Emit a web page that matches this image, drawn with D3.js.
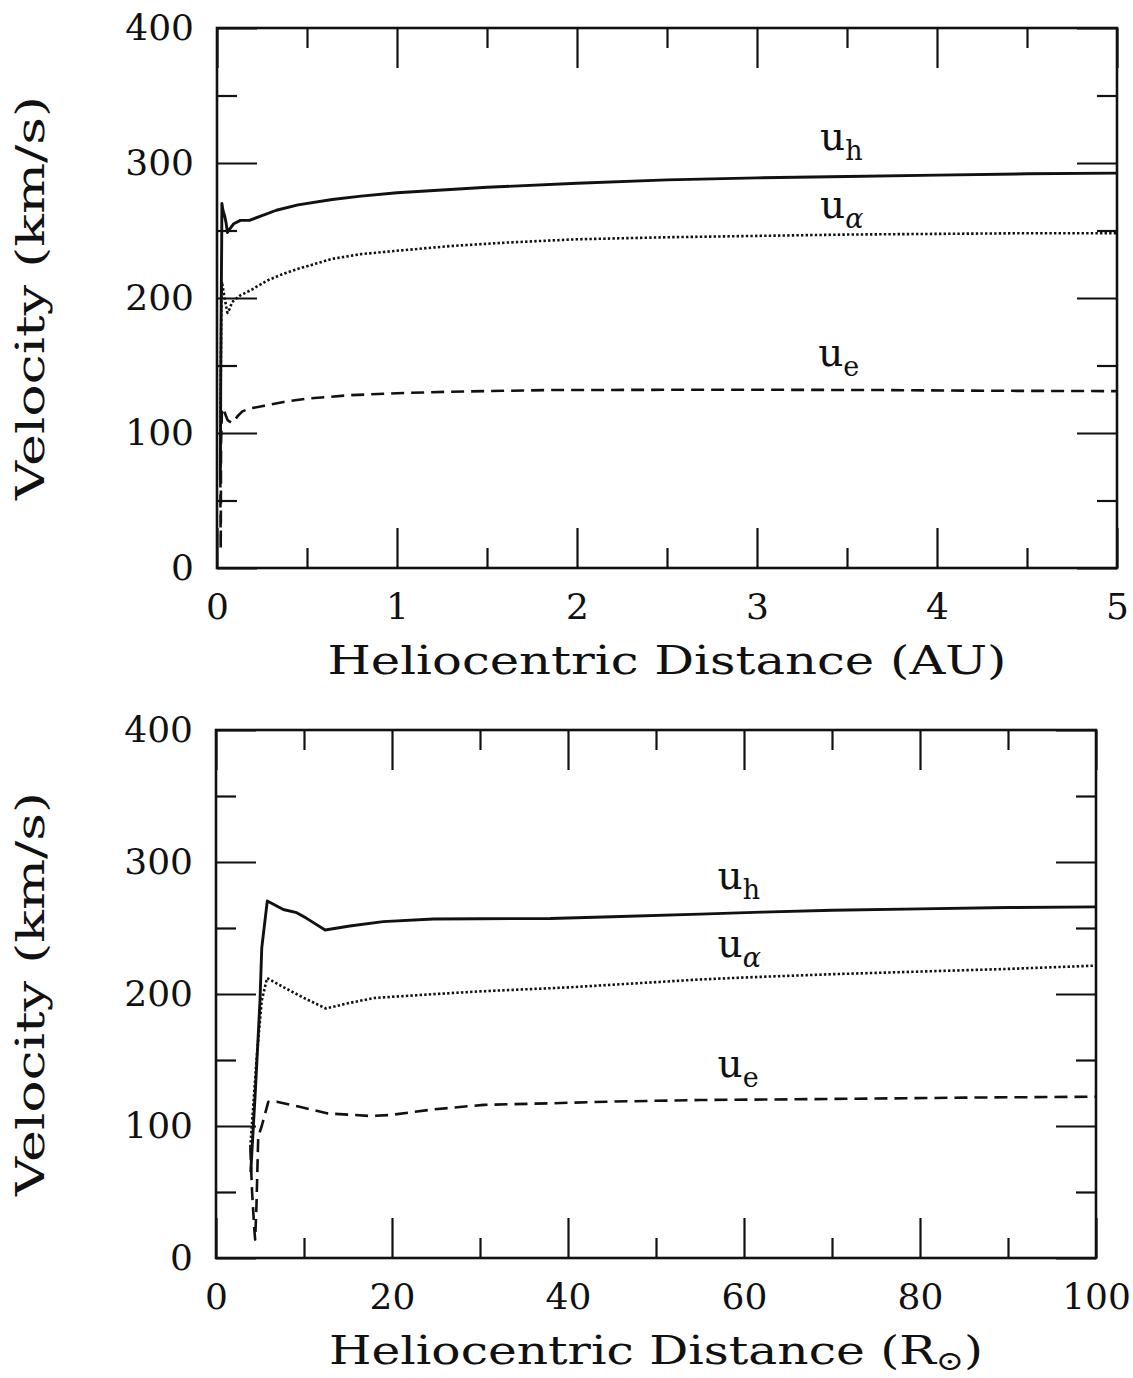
<!DOCTYPE html>
<html>
<head>
<meta charset="utf-8">
<script src="https://cdn.jsdelivr.net/npm/d3@7"></script>
<style>
  html, body { margin: 0; padding: 0; background: #fff; }
  svg { display: block; }
  text { fill: #111; }
</style>
</head>
<body>
<svg id="chart" width="1133" height="1378"></svg>
<script>
// ---- Velocity profiles, out to 5 AU (upper panel) ----
const auDistH = [0.0186, 0.0207, 0.0233, 0.0260, 0.0272, 0.0330, 0.0420, 0.0500, 0.0580, 0.0700, 0.0930, 0.1300, 0.1800, 0.2500, 0.3300, 0.4500, 0.6400, 0.8000, 1.0000, 1.5000, 2.0000, 2.5000, 3.0000, 3.5000, 4.0000, 4.5000, 5.0000];
const auVelH  = [65, 140, 195, 240, 270, 265, 261, 256, 248.5, 251, 255, 257.5, 257.5, 261, 265, 269, 273, 275.5, 278, 282, 285, 287.5, 289, 290, 291, 292, 292.5];

const auDistA = [0.0181, 0.0214, 0.0242, 0.0270, 0.0370, 0.0465, 0.0580, 0.0700, 0.0840, 0.1300, 0.1900, 0.2800, 0.3700, 0.4600, 0.6400, 0.8000, 1.0000, 1.3000, 1.6000, 2.0000, 2.5000, 3.0000, 3.5000, 4.0000, 4.5000, 5.0000];
const auVelA  = [84, 150, 195, 212, 204, 197, 189, 192, 197, 202, 206, 213, 218, 222, 229, 232.5, 235, 238.5, 241, 243.5, 245, 246, 247, 247.5, 248, 248];

const auDistE = [0.0181, 0.0191, 0.0202, 0.0207, 0.0214, 0.0223, 0.0242, 0.0277, 0.0321, 0.0442, 0.0586, 0.0814, 0.0921, 0.1150, 0.1410, 0.1770, 0.2560, 0.3700, 0.5000, 0.7400, 1.0000, 1.3000, 1.8500, 2.5000, 3.1000, 3.7000, 4.3000, 5.0000];
const auVelE  = [84, 50, 22, 14, 40, 92, 100, 118, 118.5, 114.6, 109.6, 107.6, 108.3, 112.6, 116, 118, 120, 123, 125.5, 128, 129.5, 130.6, 131.8, 132, 132, 131.8, 131.3, 131];

// ---- Velocity profiles, out to 100 solar radii (lower panel) ----
const rsDistH = [3.95, 4.5, 5.0, 5.2, 5.83, 7.65, 9.17, 10.3, 12.4, 15.2, 19, 24.7, 30, 38, 45, 55, 62, 70, 80, 90, 100];
const rsVelH  = [65, 130, 195, 235, 270.5, 264, 261.6, 257.3, 248.5, 251.5, 254.8, 256.8, 257, 257.2, 258.5, 260.5, 262, 263.5, 264.5, 265.5, 266];

const rsDistA = [3.9, 4.6, 5.2, 5.8, 8, 10, 12.5, 15, 18, 25, 30, 40, 50, 55, 60, 70, 80, 90, 100];
const rsVelA  = [84, 150, 195, 212, 204, 197, 189, 193, 197, 200, 202, 205, 209, 211, 212.5, 215, 217, 219, 221.5];

const rsDistE = [3.9, 4.1, 4.35, 4.45, 4.6, 4.8, 5.2, 5.95, 6.9, 9.5, 12.6, 17.5, 19.8, 24.7, 30.4, 38, 45, 55, 65, 75, 85, 100];
const rsVelE  = [84, 50, 22, 14, 40, 92, 100, 118.4, 118.4, 114.6, 109.6, 107.6, 108.3, 112.6, 116, 117.2, 118.5, 119.7, 120.2, 120.8, 121.5, 122.2];

// ---- Axis ticks ----
const velMajor = [0, 100, 200, 300, 400];
const velMinor = [50, 150, 250, 350];
const auMajor = [0, 1, 2, 3, 4, 5];
const auMinor = [0.5, 1.5, 2.5, 3.5, 4.5];
const rsMajor = [0, 20, 40, 60, 80, 100];
const rsMinor = [10, 30, 50, 70, 90];

// ---- Curve labels: name, subscript, anchor in data units ----
const curveNames = ["u", "u", "u"];
const curveSubs = ["h", "α", "e"];
const auLabelX = [3.35, 3.35, 3.34];
const auLabelV = [309.5, 259, 150];
const rsLabelX = [57, 57, 57];
const rsLabelV = [279.5, 228, 137];

const svg = d3.select("#chart");
svg.append("rect").attr("width", 1133).attr("height", 1378).attr("fill", "#fff");

const SERIF = "'DejaVu Serif', 'Liberation Serif', serif";
const lineStyles = [
  { width: 2.9, dash: null },
  { width: 2.6, dash: "2.4,2.2" },
  { width: 2.6, dash: "13,7" }
];

function drawPanel(cfg) {
  const { left, right, top, bottom } = cfg.box;
  const x = d3.scaleLinear().domain(cfg.xDomain).range([left, right]);
  const y = d3.scaleLinear().domain([0, 400]).range([bottom, top]);
  const g = svg.append("g");

  const tickStyle = sel => {
    sel.select(".domain").remove();
    sel.selectAll(".tick line").attr("stroke", "#111").attr("stroke-width", 2.2);
    sel.selectAll(".tick text")
      .attr("font-family", SERIF).attr("font-size", 36).attr("fill", "#111");
  };

  // major ticks with labels
  g.append("g").attr("transform", `translate(0,${bottom})`)
    .call(d3.axisBottom(x).tickValues(cfg.xMajor).tickSize(-40).tickPadding(25)
      .tickFormat(d3.format("d")))
    .call(tickStyle);
  g.append("g").attr("transform", `translate(0,${top})`)
    .call(d3.axisTop(x).tickValues(cfg.xMajor).tickSize(-40).tickFormat(""))
    .call(tickStyle);
  g.append("g").attr("transform", `translate(${left},0)`)
    .call(d3.axisLeft(y).tickValues(velMajor).tickSize(-40).tickPadding(23)
      .tickFormat(d3.format("d")))
    .call(tickStyle);
  g.append("g").attr("transform", `translate(${right},0)`)
    .call(d3.axisRight(y).tickValues(velMajor).tickSize(-40).tickFormat(""))
    .call(tickStyle);

  // minor ticks
  g.append("g").attr("transform", `translate(0,${bottom})`)
    .call(d3.axisBottom(x).tickValues(cfg.xMinor).tickSize(-20).tickFormat(""))
    .call(tickStyle);
  g.append("g").attr("transform", `translate(0,${top})`)
    .call(d3.axisTop(x).tickValues(cfg.xMinor).tickSize(-20).tickFormat(""))
    .call(tickStyle);
  g.append("g").attr("transform", `translate(${left},0)`)
    .call(d3.axisLeft(y).tickValues(velMinor).tickSize(-20).tickFormat(""))
    .call(tickStyle);
  g.append("g").attr("transform", `translate(${right},0)`)
    .call(d3.axisRight(y).tickValues(velMinor).tickSize(-20).tickFormat(""))
    .call(tickStyle);

  // frame
  g.append("rect")
    .attr("x", left).attr("y", top)
    .attr("width", right - left).attr("height", bottom - top)
    .attr("fill", "none").attr("stroke", "#111").attr("stroke-width", 2.6);

  // curves
  const line = d3.line().x(d => x(d[0])).y(d => y(d[1]));
  cfg.series.forEach((s, i) => {
    const pts = s.dist.map((d, k) => [d, s.vel[k]]);
    const st = lineStyles[i];
    g.append("path").datum(pts)
      .attr("d", line)
      .attr("fill", "none")
      .attr("stroke", "#111")
      .attr("stroke-width", st.width)
      .attr("stroke-linejoin", "round")
      .attr("stroke-dasharray", st.dash);
  });

  // curve labels
  curveNames.forEach((nm, i) => {
    const t = g.append("text")
      .attr("x", x(cfg.labelX[i])).attr("y", y(cfg.labelV[i]))
      .attr("font-family", SERIF).attr("font-size", 39);
    t.append("tspan").text(nm);
    t.append("tspan").attr("dy", 10).attr("font-size", 27)
      .attr("font-style", curveSubs[i] === "α" ? "italic" : "normal")
      .text(curveSubs[i]);
  });

  // axis titles
  const xt = g.append("text")
    .attr("x", (left + right) / 2).attr("y", bottom + 106)
    .attr("text-anchor", "middle")
    .attr("font-family", SERIF).attr("font-size", 39)
    .attr("textLength", cfg.xTitleLen).attr("lengthAdjust", "spacingAndGlyphs");
  cfg.xTitle.forEach(part => {
    const ts = xt.append("tspan").text(part.t);
    if (part.sub) ts.attr("dy", 6).attr("font-size", 27);
    if (part.up) ts.attr("dy", -6);
  });

  g.append("text")
    .attr("transform", `translate(44,${(top + bottom) / 2}) rotate(-90)`)
    .attr("text-anchor", "middle")
    .attr("font-family", SERIF).attr("font-size", 40)
    .attr("textLength", 404).attr("lengthAdjust", "spacingAndGlyphs")
    .text("Velocity (km/s)");
}

drawPanel({
  box: { left: 217, right: 1117, top: 28, bottom: 568 },
  xDomain: [0, 5],
  xMajor: auMajor, xMinor: auMinor,
  series: [
    { dist: auDistH, vel: auVelH },
    { dist: auDistA, vel: auVelA },
    { dist: auDistE, vel: auVelE }
  ],
  labelX: auLabelX, labelV: auLabelV,
  xTitle: [{ t: "Heliocentric Distance (AU)" }],
  xTitleLen: 679
});

drawPanel({
  box: { left: 216, right: 1096, top: 730, bottom: 1258 },
  xDomain: [0, 100],
  xMajor: rsMajor, xMinor: rsMinor,
  series: [
    { dist: rsDistH, vel: rsVelH },
    { dist: rsDistA, vel: rsVelA },
    { dist: rsDistE, vel: rsVelE }
  ],
  labelX: rsLabelX, labelV: rsLabelV,
  xTitle: [{ t: "Heliocentric Distance (R" }, { t: "⊙", sub: true }, { t: ")", up: true }],
  xTitleLen: 654
});
</script>
</body>
</html>
